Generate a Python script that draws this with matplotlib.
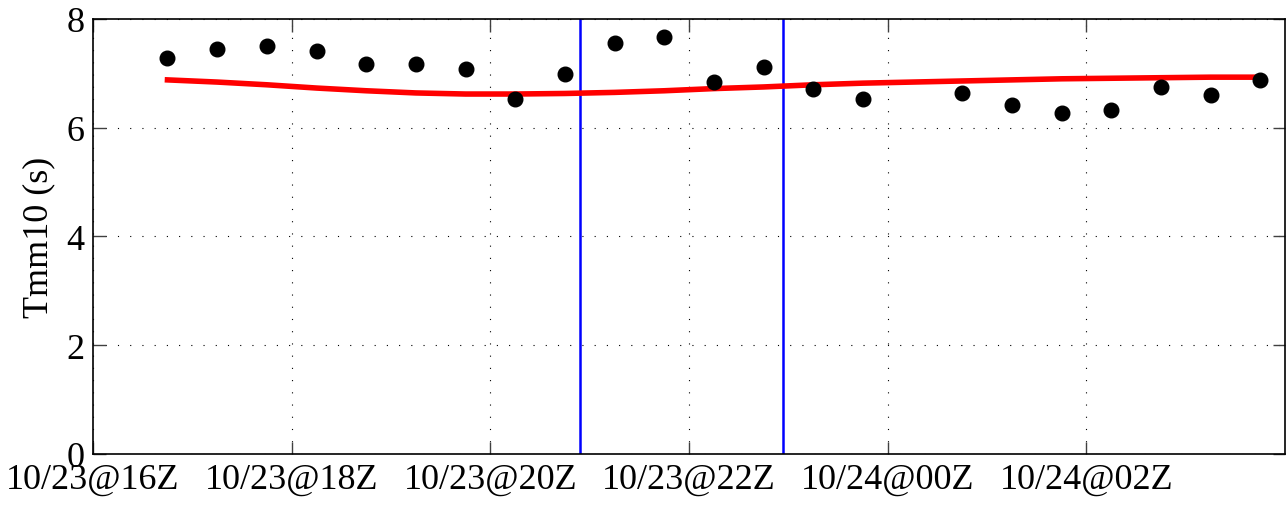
import numpy as np
import pandas as pd
import matplotlib
matplotlib.use("Agg")
import matplotlib.pyplot as plt
import matplotlib.dates as mdates

plt.rcParams['font.family'] = ['Liberation Serif', 'DejaVu Serif']

# observation times (UTC) and measured Tmm10
obs_times = ["2012-10-23 16:45", "2012-10-23 17:15", "2012-10-23 17:45", "2012-10-23 18:15",
             "2012-10-23 18:45", "2012-10-23 19:15", "2012-10-23 19:45", "2012-10-23 20:15",
             "2012-10-23 20:45", "2012-10-23 21:15", "2012-10-23 21:45", "2012-10-23 22:15",
             "2012-10-23 22:45", "2012-10-23 23:15", "2012-10-23 23:45",
             "2012-10-24 00:45", "2012-10-24 01:15", "2012-10-24 01:45", "2012-10-24 02:15",
             "2012-10-24 02:45", "2012-10-24 03:15", "2012-10-24 03:45"]
obs_tmm10 = [7.28, 7.45, 7.50, 7.41, 7.17, 7.17, 7.08, 6.53, 6.98, 7.55, 7.67, 6.85,
             7.12, 6.71, 6.53, 6.63, 6.41, 6.28, 6.33, 6.75, 6.61, 6.88]

# model curve
mod_times = ["2012-10-23 16:45", "2012-10-23 17:15", "2012-10-23 17:45", "2012-10-23 18:15",
             "2012-10-23 18:45", "2012-10-23 19:15", "2012-10-23 19:45", "2012-10-23 20:15",
             "2012-10-23 20:45", "2012-10-23 21:15", "2012-10-23 21:45", "2012-10-23 22:15",
             "2012-10-23 22:45", "2012-10-23 23:15", "2012-10-23 23:45", "2012-10-24 00:15",
             "2012-10-24 00:45", "2012-10-24 01:15", "2012-10-24 01:45", "2012-10-24 02:15",
             "2012-10-24 02:45", "2012-10-24 03:15", "2012-10-24 03:45"]
mod_tmm10 = [6.88, 6.84, 6.79, 6.73, 6.68, 6.64, 6.62, 6.62, 6.63, 6.65, 6.68, 6.72,
             6.75, 6.79, 6.82, 6.84, 6.86, 6.88, 6.90, 6.91, 6.92, 6.93, 6.93]

# vertical markers
event_times = ["2012-10-23 20:54", "2012-10-23 22:57"]

tick_times = ["2012-10-23 16:00", "2012-10-23 18:00", "2012-10-23 20:00",
              "2012-10-23 22:00", "2012-10-24 00:00", "2012-10-24 02:00"]
tick_labels = ["10/23@16Z", "10/23@18Z", "10/23@20Z", "10/23@22Z", "10/24@00Z", "10/24@02Z"]

fig = plt.figure(figsize=(12.86, 5.06), dpi=100)
ax = fig.add_axes([0.0723, 0.1008, 0.9270, 0.8597])

ax.plot(pd.to_datetime(mod_times), mod_tmm10, color='red', lw=4, zorder=3)
ax.plot(pd.to_datetime(obs_times), obs_tmm10, 'o', color='black', ms=10.5, zorder=4)
for t in event_times:
    ax.axvline(pd.Timestamp(t), color='blue', lw=1.8, zorder=2)

ax.set_xlim(pd.Timestamp("2012-10-23 16:00"), pd.Timestamp("2012-10-24 04:00"))
ax.set_ylim(0, 8)
ax.set_yticks([0, 2, 4, 6, 8])
ax.set_xticks(pd.to_datetime(tick_times))
ax.set_xticklabels(tick_labels)
ax.set_ylabel("Tmm10 (s)", fontsize=26, labelpad=8)

ax.tick_params(direction='in', length=9, width=1, color='#404040', labelsize=26,
               top=True, right=True, pad=6)
ax.grid(True, color='black', ls=(0, (1, 10)), lw=0.8)
for s in ax.spines.values():
    s.set_linewidth(1.2)

fig.savefig("out.png", dpi=100)
